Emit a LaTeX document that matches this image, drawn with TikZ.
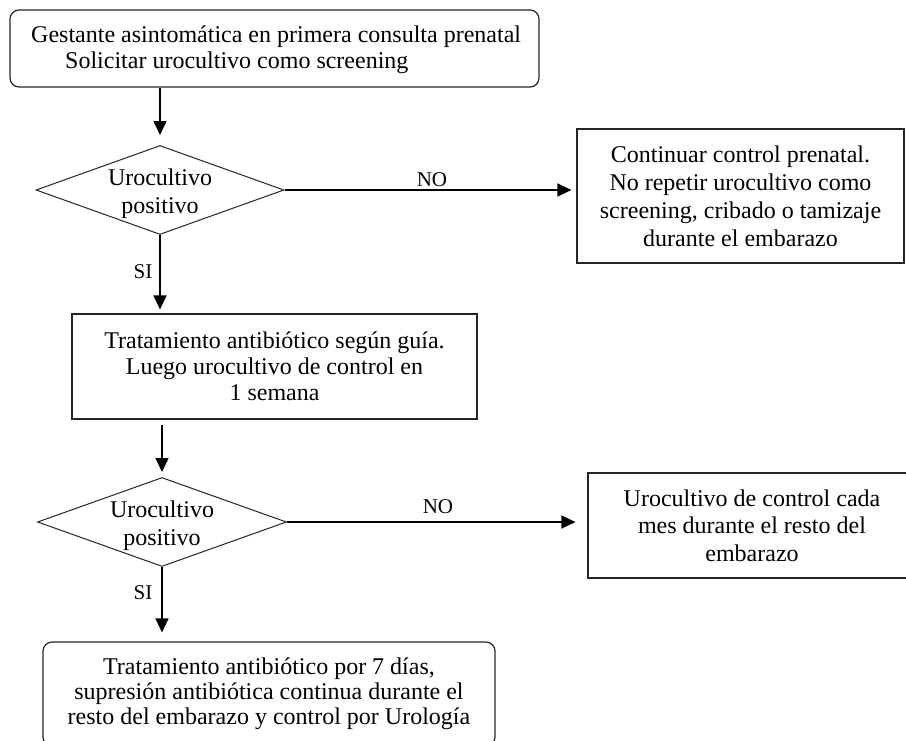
\documentclass[tikz,border=0pt]{standalone}
\usepackage{fontspec}
\setmainfont{Liberation Serif}
\usetikzlibrary{shapes.geometric,arrows.meta}
\begin{document}
\begin{tikzpicture}[x=1pt,y=-1pt,
  txt/.style={font=\fontsize{24}{26}\selectfont},
  box/.style={draw=black!85, line width=1.2pt, inner sep=0pt, align=center, txt},
  rbox/.style={box, rounded corners=9pt},
  dec/.style={draw=black!85, diamond, line width=1pt, inner sep=0pt, aspect=2.79},
  dectext/.style={inner sep=0pt, align=center, font=\fontsize{24}{28}\selectfont},
  arr/.style={line width=1.6pt, -{Triangle[length=14pt,width=13pt]}},
  lbl/.style={inner sep=0pt, font=\fontsize{21}{24}\selectfont}]
\useasboundingbox[fill=white] (0,0) rectangle (906,740);

\node[rbox, minimum width=529pt, minimum height=77pt] (top) at (274.5,48.5) {};
\node[txt, inner sep=0pt, align=left, anchor=west] (toptext) at (31,50)
  {Gestante asintomática en primera consulta prenatal\\\hspace*{34pt}Solicitar urocultivo como screening};

\node[dec, minimum width=248pt, minimum height=89pt] (d1) at (160,190) {};
\node[dectext] (d1text) at (160,194) {Urocultivo\\positivo};

\node[box, minimum width=327pt, minimum height=134pt, font=\fontsize{24}{28}\selectfont] (r1) at (740.5,196)
  {Continuar control prenatal.\\No repetir urocultivo como\\screening, cribado o tamizaje\\durante el embarazo};

\node[box, minimum width=405pt, minimum height=105pt] (mid) at (274.5,366.5)
  {Tratamiento antibiótico según guía.\\Luego urocultivo de control en\\1 semana};

\node[dec, minimum width=249pt, minimum height=89pt] (d2) at (162,522) {};
\node[dectext] (d2text) at (162,526) {Urocultivo\\positivo};

\node[box, minimum width=328pt, minimum height=105pt, font=\fontsize{24}{27.5}\selectfont] (r2) at (752,525.5)
  {Urocultivo de control cada\\mes durante el resto del\\embarazo};

\node[rbox, minimum width=452pt, minimum height=104pt, font=\fontsize{24}{25}\selectfont] (bot) at (269,694)
  {Tratamiento antibiótico por 7 días,\\supresión antibiótica continua durante el\\resto del embarazo y control por Urología};

\draw[arr] (top.south -| d1.north) -- ([yshift=10pt]d1.north);
\draw[arr, shorten >=4pt] (d1.south) -- (d1.south |- mid.north);
\draw[arr, shorten <=5pt, shorten >=5pt] (mid.south -| d2.north) -- (d2.north);
\draw[arr, shorten >=9pt] (d2.south) -- (d2.south |- bot.north);
\draw[arr, shorten >=5pt] (d1.east) -- (d1.east -| r1.west);
\draw[arr, shorten >=12pt] (d2.east) -- (d2.east -| r2.west);

\node[lbl] (no1) at (432,180) {NO};
\node[lbl] (si1) at (143,272) {SI};
\node[lbl] (no2) at (438,507) {NO};
\node[lbl] (si2) at (143,593) {SI};
\end{tikzpicture}
\end{document}
